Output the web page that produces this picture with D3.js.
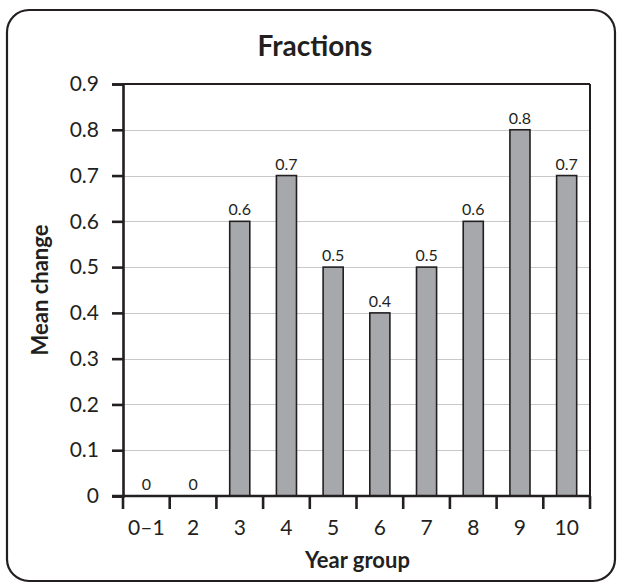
<!DOCTYPE html>
<html>
<head>
<meta charset="utf-8">
<script src="https://cdn.jsdelivr.net/npm/d3@7"></script>
<style>
  html, body { margin: 0; padding: 0; background: #ffffff; }
  svg { display: block; }
  text { font-family: Lato, "Liberation Sans", sans-serif; fill: #231f20; }
</style>
</head>
<body>
<svg id="chart" width="619" height="584"></svg>
<script>
// Mean change in fractions by year group
const categories = ["0\u20131", "2", "3", "4", "5", "6", "7", "8", "9", "10"];
const values = [0, 0, 0.6, 0.7, 0.5, 0.4, 0.5, 0.6, 0.8, 0.7];
const yTicks = [0, 0.1, 0.2, 0.3, 0.4, 0.5, 0.6, 0.7, 0.8, 0.9];
const title = "Fractions";
const xTitle = "Year group";
const yTitle = "Mean change";

const ink = "#231f20";
const svg = d3.select("#chart");

// outer frame with rounded corners
svg.append("rect")
  .attr("x", 7).attr("y", 10)
  .attr("width", 608).attr("height", 571)
  .attr("rx", 22).attr("ry", 22)
  .attr("fill", "none")
  .attr("stroke", ink)
  .attr("stroke-width", 2.2);

const plot = { left: 123, right: 590, top: 84, bottom: 496 };

const x = d3.scaleBand()
  .domain(categories)
  .range([plot.left, plot.right])
  .padding(0);

const y = d3.scaleLinear()
  .domain([0, 0.9])
  .range([plot.bottom, plot.top]);

const barW = x.bandwidth() * 0.43;

// horizontal gridlines
svg.append("g")
  .selectAll("line")
  .data(yTicks.filter(t => t > 0 && t < 0.9))
  .join("line")
  .attr("x1", plot.left).attr("x2", plot.right)
  .attr("y1", d => Math.round(y(d)) + 0.5)
  .attr("y2", d => Math.round(y(d)) + 0.5)
  .attr("stroke", "#c9c9c9")
  .attr("stroke-width", 1);

// top edge at 0.9 and right edge
svg.append("line")
  .attr("x1", plot.left).attr("x2", plot.right)
  .attr("y1", y(0.9)).attr("y2", y(0.9))
  .attr("stroke", ink).attr("stroke-width", 2);
svg.append("line")
  .attr("x1", plot.right).attr("x2", plot.right)
  .attr("y1", y(0.9)).attr("y2", plot.bottom)
  .attr("stroke", ink).attr("stroke-width", 2);

// bars
svg.append("g")
  .selectAll("rect")
  .data(categories.map((c, i) => ({ c, v: values[i] })))
  .join("rect")
  .attr("x", d => x(d.c) + (x.bandwidth() - barW) / 2)
  .attr("y", d => y(d.v))
  .attr("width", barW)
  .attr("height", d => y(0) - y(d.v))
  .attr("fill", "#a7a8ab")
  .attr("stroke", ink)
  .attr("stroke-width", 1.6);

// value labels
svg.append("g")
  .selectAll("text")
  .data(categories.map((c, i) => ({ c, v: values[i] })))
  .join("text")
  .attr("x", d => x(d.c) + x.bandwidth() / 2)
  .attr("y", d => y(d.v) - 6)
  .attr("text-anchor", "middle")
  .attr("font-size", 16)
  .attr("font-weight", 400)
  .text(d => d3.format("")(d.v));

// y axis
const yAxis = d3.axisLeft(y)
  .tickValues(yTicks)
  .tickFormat(d => d === 0 ? "0" : d3.format(".1f")(d))
  .tickSize(11)
  .tickPadding(13);
const gy = svg.append("g")
  .attr("transform", `translate(${plot.left},0)`)
  .call(yAxis);
gy.select(".domain").attr("stroke", ink).attr("stroke-width", 2.6);
gy.selectAll(".tick line").attr("stroke", ink).attr("stroke-width", 2.6);
gy.selectAll(".tick text")
  .attr("font-size", 21)
  .attr("font-family", "Lato, 'Liberation Sans', sans-serif")
  .attr("fill", ink);

// x axis: ticks sit on the group boundaries
const boundaries = categories.map(c => x(c)).concat([plot.right]);
svg.append("line")
  .attr("x1", plot.left - 11).attr("x2", plot.right + 1)
  .attr("y1", plot.bottom).attr("y2", plot.bottom)
  .attr("stroke", ink).attr("stroke-width", 2.6);
svg.append("g")
  .selectAll("line")
  .data(boundaries)
  .join("line")
  .attr("x1", d => d).attr("x2", d => d)
  .attr("y1", plot.bottom).attr("y2", plot.bottom + 13)
  .attr("stroke", ink).attr("stroke-width", 2.6);
svg.append("g")
  .selectAll("text")
  .data(categories)
  .join("text")
  .attr("x", d => x(d) + x.bandwidth() / 2)
  .attr("y", 535)
  .attr("text-anchor", "middle")
  .attr("font-size", 21)
  .text(d => d);

// titles
svg.append("text")
  .attr("x", 315).attr("y", 56)
  .attr("text-anchor", "middle")
  .attr("font-size", 28)
  .attr("font-weight", 700)
  .text(title);

svg.append("text")
  .attr("x", (plot.left + plot.right) / 2 + 1).attr("y", 568)
  .attr("text-anchor", "middle")
  .attr("font-size", 22)
  .attr("font-weight", 700)
  .text(xTitle);

svg.append("text")
  .attr("transform", `translate(48,${(plot.top + plot.bottom) / 2}) rotate(-90)`)
  .attr("text-anchor", "middle")
  .attr("font-size", 22)
  .attr("font-weight", 700)
  .text(yTitle);
</script>
</body>
</html>
